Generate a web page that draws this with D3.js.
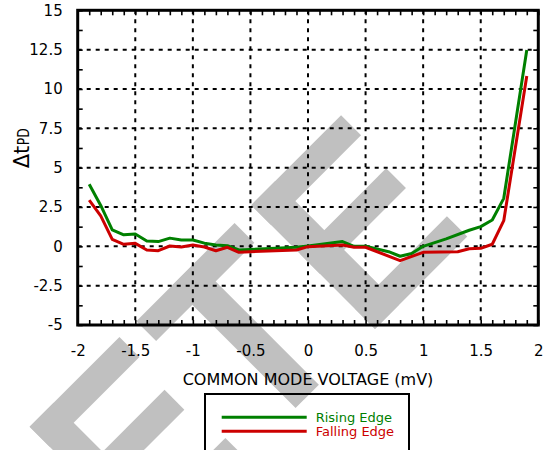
<!DOCTYPE html>
<html>
<head>
<meta charset="utf-8">
<script src="https://cdn.jsdelivr.net/npm/d3@7"></script>
<style>
  html, body { margin: 0; padding: 0; background: #fff; }
  svg { display: block; font-family: "DejaVu Sans", Verdana, sans-serif; }
</style>
</head>
<body>
<svg id="chart" width="545" height="450"></svg>
<script>
// ---------- data ----------
const xTickValues = [-2, -1.5, -1, -0.5, 0, 0.5, 1, 1.5, 2];
const yTickValues = [15, 12.5, 10, 7.5, 5, 2.5, 0, -2.5, -5];
const xTickLabels = ["-2", "-1.5", "-1", "-0.5", "0", "0.5", "1", "1.5", "2"];
const yTickLabels = ["15", "12.5", "10", "7.5", "5", "2.5", "0", "-2.5", "-5"];

const seriesNames = ["Rising Edge", "Falling Edge"];
const seriesColors = ["#008000", "#cc0000"];

const risingX = [-1.9, -1.8, -1.7, -1.6, -1.5, -1.4, -1.3, -1.2, -1.1, -1.0, -0.9, -0.8, -0.7, -0.6, -0.1, 0, 0.3, 0.4, 0.5, 0.7, 0.8, 0.9, 1.0, 1.2, 1.4, 1.5, 1.6, 1.7, 1.9];
const risingY = [3.95, 2.6, 1.05, 0.73, 0.78, 0.34, 0.3, 0.52, 0.4, 0.4, 0.2, 0.08, 0.04, -0.23, -0.06, 0.02, 0.3, 0.0, 0.0, -0.34, -0.63, -0.46, 0.0, 0.47, 1.02, 1.25, 1.67, 3.05, 12.48];

const fallingX = [-1.9, -1.8, -1.7, -1.6, -1.5, -1.4, -1.3, -1.2, -1.1, -1.0, -0.9, -0.8, -0.7, -0.6, -0.5, -0.1, 0, 0.3, 0.4, 0.5, 0.8, 1.0, 1.3, 1.4, 1.5, 1.6, 1.7, 1.9];
const fallingY = [2.94, 1.93, 0.44, 0.13, 0.19, -0.23, -0.28, 0.02, -0.04, 0.08, -0.04, -0.28, -0.06, -0.38, -0.34, -0.23, -0.02, 0.08, -0.06, -0.06, -0.91, -0.38, -0.34, -0.15, -0.13, 0.13, 1.63, 10.83];

const xTitle = "COMMON MODE VOLTAGE (mV)";

// ---------- layout ----------
const svg = d3.select("#chart");
const X0 = 77.7, X1 = 538.3, Y0 = 10.3, Y1 = 325;
const x = d3.scaleLinear().domain([-2, 2]).range([X0, X1]);
const y = d3.scaleLinear().domain([-5, 15]).range([Y1, Y0]);

// ---------- watermark (rotated block letters) ----------
const wm = svg.append("g").attr("transform", "rotate(-45)").attr("fill", "#c0c0c0");
function letterE(a0) {
  return [
    [a0, 322.7, 34, 175],
    [a0, 322.7, 127, 28.3],
    [a0, 392, 121.5, 28],
    [a0, 469, 130.5, 28.7]
  ];
}
const wmRects = [].concat(
  letterE(-280.8),
  [[-130.7, 323.5, 138.9, 28], [-79.5, 323.5, 33, 174]],
  letterE(32.6)
);
wm.selectAll("rect").data(wmRects).join("rect")
  .attr("x", d => d[0]).attr("y", d => d[1])
  .attr("width", d => d[2]).attr("height", d => d[3]);

// ---------- grid ----------
const grid = svg.append("g").attr("stroke", "#000").attr("stroke-width", 2)
  .attr("stroke-dasharray", "4,5");
grid.selectAll("line.v").data(xTickValues.slice(1, -1)).join("line")
  .attr("class", "v")
  .attr("x1", d => x(d)).attr("x2", d => x(d))
  .attr("y1", Y0).attr("y2", Y1);
grid.selectAll("line.h").data(yTickValues.slice(1, -1)).join("line")
  .attr("class", "h")
  .attr("y1", d => y(d)).attr("y2", d => y(d))
  .attr("x1", X0).attr("x2", X1);

// ---------- minor ticks (inward, all four sides) ----------
const minorX = d3.range(-20, 21).map(i => i / 10);
const minorY = d3.range(-4, 13).map(i => i * 1.25);
function styleTicks(g) {
  g.select(".domain").remove();
  g.selectAll(".tick line").attr("stroke", "#000").attr("stroke-width", 1.6);
  g.selectAll(".tick text").remove();
}
svg.append("g").attr("transform", `translate(0,${Y1})`)
  .call(d3.axisBottom(x).tickValues(minorX).tickSize(-5).tickFormat("")).call(styleTicks);
svg.append("g").attr("transform", `translate(0,${Y0})`)
  .call(d3.axisTop(x).tickValues(minorX).tickSize(-5).tickFormat("")).call(styleTicks);
svg.append("g").attr("transform", `translate(${X0},0)`)
  .call(d3.axisLeft(y).tickValues(minorY).tickSize(-5).tickFormat("")).call(styleTicks);
svg.append("g").attr("transform", `translate(${X1},0)`)
  .call(d3.axisRight(y).tickValues(minorY).tickSize(-5).tickFormat("")).call(styleTicks);

// ---------- curves ----------
const line = d3.line().x(d => x(d[0])).y(d => y(d[1]));
const seriesData = [
  d3.zip(risingX, risingY),
  d3.zip(fallingX, fallingY)
];
svg.append("g").selectAll("path").data(seriesData).join("path")
  .attr("d", line)
  .attr("fill", "none")
  .attr("stroke", (d, i) => seriesColors[i])
  .attr("stroke-width", 3)
  .attr("stroke-linejoin", "round");

// ---------- frame ----------
svg.append("rect")
  .attr("x", X0).attr("y", Y0).attr("width", X1 - X0).attr("height", Y1 - Y0)
  .attr("fill", "none").attr("stroke", "#000").attr("stroke-width", 3);

// ---------- tick labels ----------
const xAxisLabels = svg.append("g").attr("transform", `translate(0,${Y1})`)
  .call(d3.axisBottom(x).tickValues(xTickValues).tickSize(0).tickPadding(20)
    .tickFormat((d, i) => xTickLabels[i]));
xAxisLabels.select(".domain").remove();
xAxisLabels.selectAll("text").attr("font-size", 15).attr("fill", "#000")
  .attr("font-family", "DejaVu Sans");

const yAxisLabels = svg.append("g").attr("transform", `translate(${X0},0)`)
  .call(d3.axisLeft(y).tickValues(yTickValues).tickSize(0).tickPadding(15)
    .tickFormat((d, i) => yTickLabels[i]));
yAxisLabels.select(".domain").remove();
yAxisLabels.selectAll("text").attr("font-size", 15).attr("fill", "#000")
  .attr("font-family", "DejaVu Sans");

// ---------- axis titles ----------
svg.append("text")
  .attr("x", (X0 + X1) / 2).attr("y", 385)
  .attr("text-anchor", "middle").attr("font-size", 16).attr("fill", "#000")
  .text(xTitle);

const yt = svg.append("text")
  .attr("transform", "translate(28.5,168.3) rotate(-90)")
  .attr("fill", "#000");
yt.append("tspan").attr("x", 0).attr("y", 0).attr("font-size", 21).text("\u0394t");
yt.append("tspan").attr("x", 23).attr("y", 0).attr("font-size", 16)
  .attr("textLength", 17).attr("lengthAdjust", "spacingAndGlyphs").text("PD");

// ---------- legend ----------
const lg = svg.append("g");
lg.append("rect").attr("x", 205).attr("y", 394).attr("width", 204).attr("height", 80)
  .attr("fill", "none").attr("stroke", "#000").attr("stroke-width", 2);
const items = lg.selectAll("g.item").data(seriesNames).join("g").attr("class", "item")
  .attr("transform", (d, i) => `translate(0,${417.3 + i * 13.9})`);
items.append("line").attr("x1", 221.7).attr("x2", 306.7).attr("y1", 0).attr("y2", 0)
  .attr("stroke", (d, i) => seriesColors[i]).attr("stroke-width", 3);
items.append("text").attr("x", 315.7).attr("y", 4.5).attr("font-size", 13)
  .attr("fill", (d, i) => seriesColors[i]).text(d => d);
</script>
</body>
</html>
